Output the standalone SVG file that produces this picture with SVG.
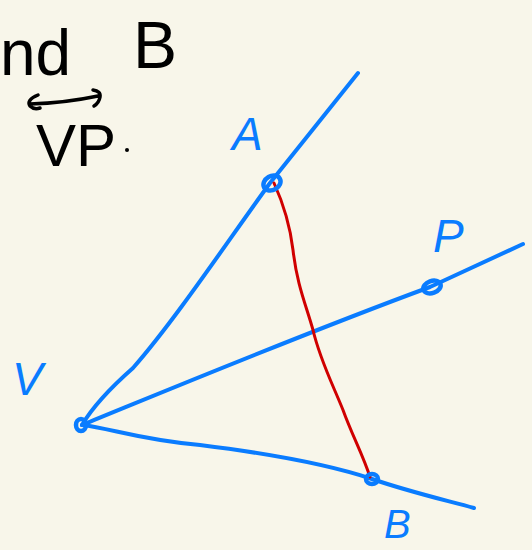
<svg xmlns="http://www.w3.org/2000/svg" width="532" height="550" viewBox="0 0 532 550">
<style>
.bg{fill:#f8f6ea}
.ink{fill:#000;font-family:"Liberation Sans",sans-serif}
.lbl{fill:#0a7cff;font-family:"Liberation Sans",sans-serif;font-style:italic}
.ray{fill:none;stroke:#0a7cff;stroke-width:4;stroke-linecap:round;stroke-linejoin:round}
.pt{fill:none;stroke:#0a7cff;stroke-width:4.5}
.seg{fill:none;stroke:#d00000;stroke-width:3;stroke-linecap:round}
</style>
<rect class="bg" width="532" height="550"/>
<g id="notes">
<text class="ink" x="0" y="75" font-size="64">nd</text>
<text class="ink" x="133" y="68" font-size="66">B</text>
<path d="M38,95 Q26,100 30,106 Q34,110 40,108 M30,104 Q65,103 98,96 M93,90 Q101,91 100,97 Q99,103 94,106" fill="none" stroke="#000" stroke-width="3.5" stroke-linecap="round"/>
<text class="ink" x="36" y="166" font-size="60">VP</text>
<circle cx="127" cy="150" r="2" fill="#000"/>
</g>
<g id="connectors">
<path class="ray" d="M82,425 C92,408 108,390 133,368 C175,320 225,245 270,183 L358,73"/>
<path class="ray" d="M82,425 C180,385 300,335 430,287 L523,244"/>
<path class="ray" d="M82,425 C110,428 140,440 200,445 C280,455 330,465 372,479 C410,492 445,500 474,508"/>
<path class="seg" d="M274,183 C284,205 290,225 293,250 C297,285 306,305 313,330 C320,360 333,385 343,410 C352,435 363,455 370,477"/>
</g>
<g id="V">
<ellipse class="pt" cx="81" cy="425" rx="5" ry="6"/>
<text class="lbl" x="12" y="395" font-size="46">V</text>
</g>
<g id="A">
<ellipse class="pt" cx="272" cy="183" rx="9" ry="7" transform="rotate(-30 272 183)"/>
<text class="lbl" x="232" y="150" font-size="46">A</text>
</g>
<g id="P">
<ellipse class="pt" cx="432" cy="287" rx="9" ry="6" transform="rotate(-20 432 287)"/>
<text class="lbl" x="433" y="252" font-size="46">P</text>
</g>
<g id="B">
<ellipse class="pt" cx="372" cy="479" rx="6" ry="5"/>
<text class="lbl" x="384" y="538" font-size="40">B</text>
</g>
</svg>
